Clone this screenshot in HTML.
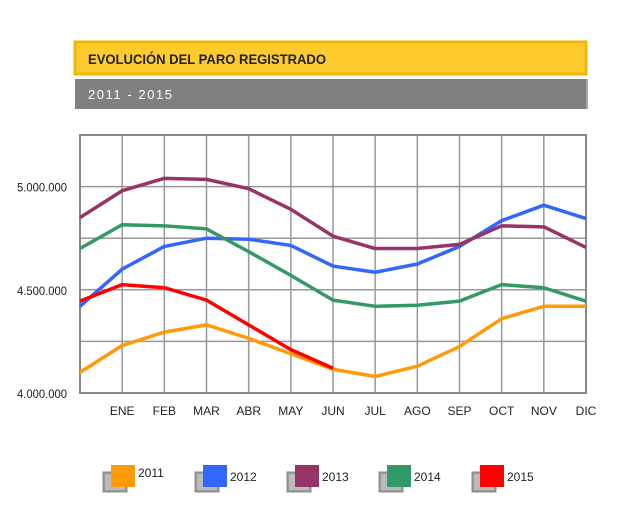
<!DOCTYPE html>
<html><head><meta charset="utf-8"><style>
body{margin:0;background:#fff;width:623px;height:510px;overflow:hidden;font-family:"Liberation Sans",sans-serif}
</style></head><body>
<svg width="623" height="510" xmlns="http://www.w3.org/2000/svg">
<g>
<rect x="75" y="42" width="511" height="32" fill="#fdcb2e" stroke="#f2b705" stroke-width="3"/>
<text x="88" y="64" font-size="14" font-weight="bold" fill="#222" textLength="238" lengthAdjust="spacingAndGlyphs">EVOLUCIÓN DEL PARO REGISTRADO</text>
</g>
<g>
<rect x="75" y="79" width="513" height="30" fill="#808080"/>
<rect x="586" y="79" width="2" height="30" fill="#aaa"/>
<text x="88" y="99" font-size="13" fill="#fff" textLength="84" lengthAdjust="spacing">2011 - 2015</text>
</g>
<g id="grid"></g>
<g id="series"></g>
<g id="axes"></g>
<g id="legend"></g>
</svg>
<script>
const months=["ENE","FEB","MAR","ABR","MAY","JUN","JUL","AGO","SEP","OCT","NOV","DIC"];
const yTicks=[4000000,4500000,5000000];
const yTickLabels=["4.000.000","4.500.000","5.000.000"];
const years=["2011","2012","2013","2014","2015"];
const colors=["#ff9a0a","#3366ff","#993366","#339966","#ff0000"];
const s2011=[4100000,4230000,4295000,4330000,4265000,4190000,4115000,4080000,4130000,4225000,4360000,4420000,4420000];
const s2012=[4420000,4600000,4710000,4750000,4745000,4715000,4615000,4585000,4625000,4710000,4835000,4910000,4845000];
const s2013=[4850000,4980000,5040000,5035000,4990000,4890000,4760000,4700000,4700000,4720000,4810000,4805000,4705000];
const s2014=[4700000,4815000,4810000,4795000,4685000,4570000,4450000,4420000,4425000,4445000,4525000,4510000,4445000];
const s2015=[4445000,4525000,4510000,4450000,4330000,4210000,4120000];
const series=[s2011,s2012,s2013,s2014,s2015];
const L=80,R=586,T=135,B=393,ymin=4000000,ymax=5250000;
const xs=i=>L+(R-L)*i/12;
const ys=v=>B-(v-ymin)/(ymax-ymin)*(B-T);
const NS="http://www.w3.org/2000/svg";
function mk(t,a,p){const e=document.createElementNS(NS,t);for(const k in a)e.setAttribute(k,a[k]);p.appendChild(e);return e;}
const grid=document.getElementById('grid');
for(let i=1;i<12;i++){const l=mk('line',{x1:xs(i),x2:xs(i),y1:T,y2:B,stroke:'#999','stroke-width':1.5},grid);

}
[4250000,4500000,4750000,5000000].forEach(v=>{const l=mk('line',{x1:L,x2:R,y1:ys(v),y2:ys(v),stroke:'#999','stroke-width':1.5},grid);

});
const pf=mk('rect',{x:L,y:T,width:R-L,height:B-T,fill:'none',stroke:'#888','stroke-width':2},grid);


const sg=document.getElementById('series');
series.forEach((s,k)=>{const p=mk('polyline',{points:s.map((v,i)=>xs(i)+','+ys(v)).join(' '),fill:'none',stroke:colors[k],'stroke-width':3.5,'stroke-linejoin':'round'},sg);

});
const ax=document.getElementById('axes');
yTicks.forEach((v,i)=>{const t=mk('text',{x:67,y:ys(v)+5,'text-anchor':'end','font-size':12,fill:'#222',textLength:50,lengthAdjust:'spacingAndGlyphs'},ax);t.textContent=yTickLabels[i];

});
months.forEach((m,i)=>{const t=mk('text',{x:xs(i+1),y:415,'text-anchor':'middle','font-size':12,fill:'#222'},ax);t.textContent=m;

});
const lg=document.getElementById('legend');
const lx=[111,203,295,387,480];
years.forEach((y,k)=>{const g=mk('g',{},lg);


mk('rect',{x:lx[k]-8,y:472,width:24,height:20,fill:'#9a9a9a',stroke:'#888'},g);
mk('rect',{x:lx[k]-6,y:474,width:20,height:16,fill:'#bbb'},g);
mk('rect',{x:lx[k],y:465,width:24,height:22,fill:colors[k]},g);
const t=mk('text',{x:lx[k]+27,y:k==0?477:481,'font-size':12,fill:'#222'},g);t.textContent=y;});
</script>
</body></html>
